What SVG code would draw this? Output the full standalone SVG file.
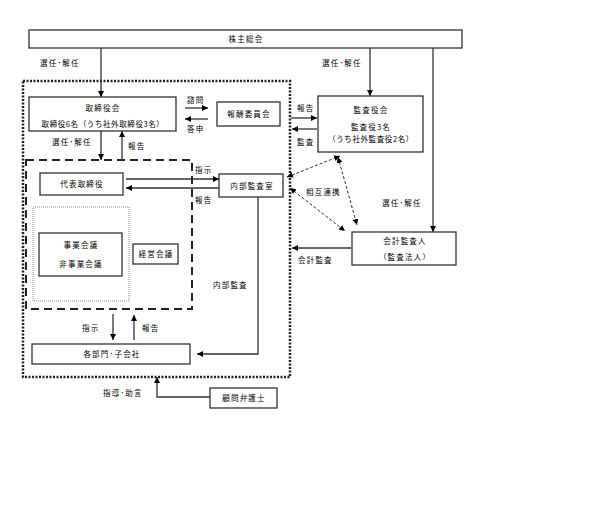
<svg xmlns="http://www.w3.org/2000/svg" width="613" height="530" viewBox="0 0 613 530">
<style>
text{font-family:"Noto Sans CJK JP","Noto Sans CJK SC",sans-serif;font-size:7.5px;fill:#000;letter-spacing:1.2px}
.c{text-anchor:middle}
.box{fill:#fff;stroke:#333;stroke-width:1.3}
.ln{fill:none;stroke:#333;stroke-width:1.3}
.dl{fill:none;stroke:#333;stroke-width:1;stroke-dasharray:3 2}
</style>
<defs>
<marker id="a" viewBox="0 0 10 10" refX="10" refY="5" markerWidth="6" markerHeight="6" markerUnits="userSpaceOnUse" orient="auto-start-reverse">
<path d="M0,0L10,5L0,10z" fill="#000"/>
</marker>
</defs>
<rect width="613" height="530" fill="#fff"/>
<g id="frames">
<rect x="23" y="81" width="267" height="296" fill="none" stroke="#222" stroke-width="2.5" stroke-dasharray="2 1.5"/>
<rect x="26" y="160" width="166" height="149" fill="none" stroke="#222" stroke-width="2" stroke-dasharray="8 5"/>
<rect x="33" y="207" width="96" height="94" fill="none" stroke="#888" stroke-width="1" stroke-dasharray="1 1"/>
</g>
<g id="connectors">
<path class="ln" d="M101,48V97" marker-end="url(#a)"/>
<path class="ln" d="M370,48V96" marker-end="url(#a)"/>
<path class="ln" d="M433,48V232" marker-end="url(#a)"/>
<path class="ln" d="M185,108H208" marker-end="url(#a)"/>
<path class="ln" d="M208,119H185" marker-end="url(#a)"/>
<path class="ln" d="M291,118H317" marker-end="url(#a)"/>
<path class="ln" d="M317,129H292" marker-end="url(#a)"/>
<path class="ln" d="M101,131V160" marker-end="url(#a)"/>
<path class="ln" d="M122,160V131" marker-end="url(#a)"/>
<path class="ln" d="M126,179H219" marker-end="url(#a)"/>
<path class="ln" d="M219,188H126" marker-end="url(#a)"/>
<path class="ln" d="M258,197V354H197" marker-end="url(#a)"/>
<path class="ln" d="M113,314V340" marker-end="url(#a)"/>
<path class="ln" d="M134,340V315" marker-end="url(#a)"/>
<path class="ln" d="M210,397H157V377" marker-end="url(#a)"/>
<path class="ln" d="M351,248H292" marker-end="url(#a)"/>
<path class="dl" d="M287,177L340,156" marker-start="url(#a)" marker-end="url(#a)"/>
<path class="dl" d="M290,188L345,231" marker-start="url(#a)" marker-end="url(#a)"/>
<path class="dl" d="M338,157L357,225" marker-start="url(#a)" marker-end="url(#a)"/>
<text x="40" y="66">選任･解任</text>
<text x="322" y="66">選任･解任</text>
<text x="382" y="206">選任･解任</text>
<text x="187" y="103">諮問</text>
<text x="187" y="132">答申</text>
<text x="297" y="111">報告</text>
<text x="297" y="145">監査</text>
<text x="52" y="145">選任･解任</text>
<text x="128" y="149">報告</text>
<text x="195" y="173">指示</text>
<text x="195" y="203">報告</text>
<text x="213" y="288">内部監査</text>
<text x="82" y="331">指示</text>
<text x="142" y="331">報告</text>
<text x="103" y="396">指導･助言</text>
<text x="298" y="263">会計監査</text>
<text x="306" y="195">相互連携</text>
</g>
<g id="shareholders"><rect class="box" x="29" y="30" width="433" height="18"/><text class="c" x="246" y="42">株主総会</text></g>
<g id="board"><rect class="box" x="29" y="97" width="147" height="34"/><text class="c" x="103" y="111">取締役会</text><text class="c" x="103" y="127" style="letter-spacing:0.6px">取締役6名（うち社外取締役3名）</text></g>
<g id="compensation"><rect class="box" x="217" y="102" width="63" height="24"/><text class="c" x="249" y="117">報酬委員会</text></g>
<g id="auditors"><rect class="box" x="318" y="96" width="105" height="56"/><text class="c" x="371" y="113">監査役会</text><text class="c" x="371" y="130">監査役3名</text><text class="c" x="371" y="142" style="letter-spacing:0.6px">（うち社外監査役2名）</text></g>
<g id="ceo"><rect class="box" x="40" y="173" width="83" height="22"/><text class="c" x="82" y="187">代表取締役</text></g>
<g id="internal-audit"><rect class="box" x="219" y="174" width="64" height="23"/><text class="c" x="252" y="189">内部監査室</text></g>
<g id="business-meeting"><rect class="box" x="39" y="233" width="83" height="43"/><text class="c" x="81" y="248">事業会議</text><text class="c" x="81" y="267">非事業会議</text></g>
<g id="management-meeting"><rect class="box" x="133" y="244" width="45" height="20"/><text class="c" x="156" y="257">経営会議</text></g>
<g id="departments"><rect class="box" x="32" y="344" width="158" height="20"/><text class="c" x="112" y="357">各部門･子会社</text></g>
<g id="lawyer"><rect class="box" x="210" y="388" width="67" height="20"/><text class="c" x="244" y="401">顧問弁護士</text></g>
<g id="accounting-auditor"><rect class="box" x="352" y="232" width="104" height="33"/><text class="c" x="405" y="244">会計監査人</text><text class="c" x="405" y="260">（監査法人）</text></g>
</svg>
